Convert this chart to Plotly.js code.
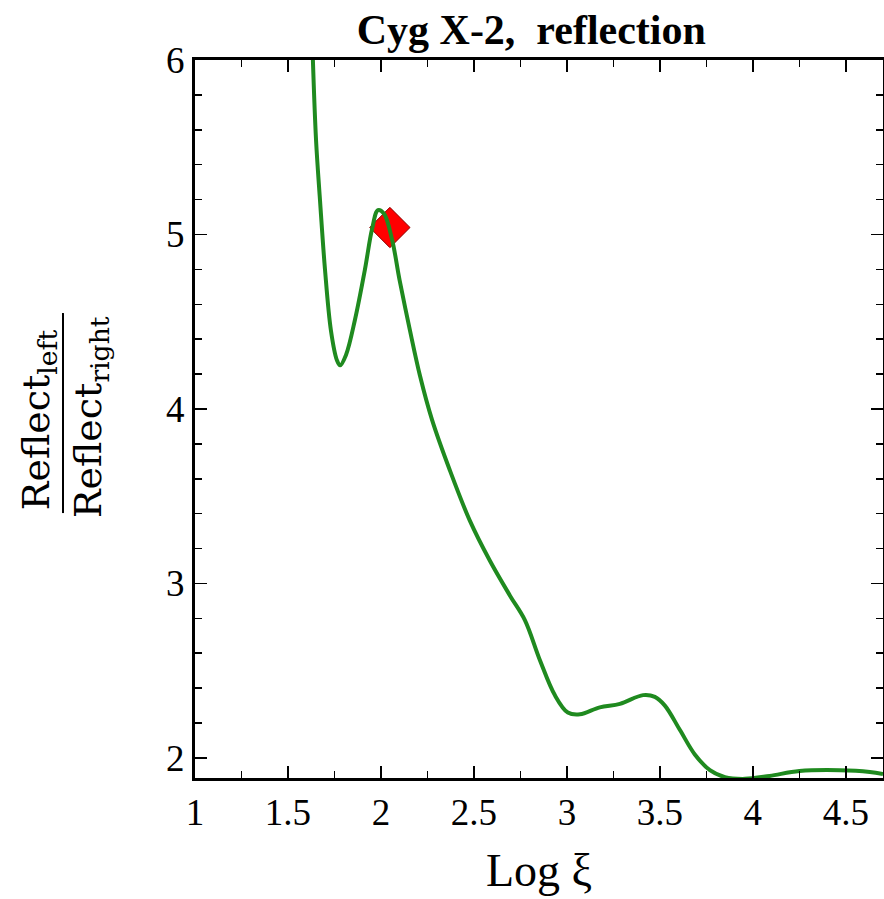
<!DOCTYPE html>
<html>
<head>
<meta charset="utf-8">
<script src="https://cdn.plot.ly/plotly-3.0.1.min.js"></script>
<style>html,body{margin:0;padding:0;background:#fff;}#chart{width:884px;height:899px;}</style>
</head>
<body>
<div id="chart"></div>
<script>
// Curve: Log xi vs Reflect_left / Reflect_right
const logXi = [1.634, 1.651, 1.672, 1.699, 1.731, 1.763, 1.780, 1.812, 1.860, 1.914, 1.952, 1.984, 2.016, 2.060, 2.100, 2.156, 2.210, 2.274, 2.370, 2.478, 2.586, 2.694, 2.774, 2.855, 2.935, 3.005, 3.070, 3.177, 3.285, 3.410, 3.473, 3.527, 3.608, 3.688, 3.769, 3.850, 3.957, 4.090, 4.250, 4.468, 4.629, 4.700];
const ratio = [6.00, 5.54, 5.20, 4.80, 4.45, 4.28, 4.25, 4.31, 4.51, 4.80, 5.03, 5.14, 5.12, 4.97, 4.74, 4.45, 4.19, 3.94, 3.65, 3.36, 3.13, 2.93, 2.79, 2.56, 2.36, 2.26, 2.25, 2.29, 2.31, 2.36, 2.35, 2.30, 2.16, 2.02, 1.93, 1.89, 1.88, 1.897, 1.925, 1.93, 1.92, 1.908];
// Marked point
const markX = [2.048];
const markY = [5.04];
const xTickVals = [1, 1.5, 2, 2.5, 3, 3.5, 4, 4.5];
const yTickVals = [2, 3, 4, 5, 6];

const serif = 'Liberation Serif, Times New Roman, serif';

const traces = [
  {x: markX, y: markY, mode: 'markers', type: 'scatter', cliponaxis: false,
   marker: {symbol: 'diamond', size: 31, color: '#ff0000', line: {color: '#8b0000', width: 1}}},
  {x: logXi, y: ratio, mode: 'lines', type: 'scatter',
   line: {color: '#1f8a1f', width: 4, shape: 'spline', smoothing: 1}}
];

const axisCommon = {
  showgrid: false, zeroline: false, showline: true, linecolor: '#000', linewidth: 3,
  mirror: 'allticks', ticks: 'inside', tickcolor: '#000', tickwidth: 1.5,
  tickfont: {family: serif, size: 37, color: '#000'}
};

const layout = {
  width: 884, height: 899,
  margin: {l: 195, r: 1, t: 60, b: 121},
  paper_bgcolor: '#fff', plot_bgcolor: '#fff',
  showlegend: false,
  title: {text: '<b>Cyg X-2,\u00a0 reflection</b>', font: {family: serif, size: 42, color: '#000'},
          x: 0.601, xanchor: 'center', y: 0.967, yanchor: 'middle'},
  xaxis: Object.assign({}, axisCommon, {
    range: [1, 4.7], tickvals: xTickVals, ticktext: xTickVals.map(String), ticklen: 12,
    minor: {dtick: 0.25, tick0: 1, ticks: 'inside', ticklen: 7, tickcolor: '#000', tickwidth: 1.5},
    title: {text: 'Log ξ', font: {family: serif, size: 46, color: '#000'}, standoff: 22}
  }),
  yaxis: Object.assign({}, axisCommon, {
    range: [1.885, 6], tickvals: yTickVals, ticktext: yTickVals.map(String), ticklen: 12,
    minor: {dtick: 0.2, tick0: 2, ticks: 'inside', ticklen: 7, tickcolor: '#000', tickwidth: 1.5}
  }),
  annotations: [
    {text: 'Reflect<sub>left</sub>', xref: 'paper', yref: 'paper', x: -0.228, y: 0.4986,
     xanchor: 'center', yanchor: 'middle', textangle: -90, showarrow: false,
     font: {family: 'DejaVu Serif, serif', size: 38, color: '#000'}},
    {text: 'Reflect<sub>right</sub>', xref: 'paper', yref: 'paper', x: -0.151, y: 0.5028,
     xanchor: 'center', yanchor: 'middle', textangle: -90, showarrow: false,
     font: {family: 'DejaVu Serif, serif', size: 38, color: '#000'}}
  ],
  shapes: [
    {type: 'line', xref: 'paper', yref: 'paper', x0: -0.1919, x1: -0.1919, y0: 0.369, y1: 0.6476,
     line: {color: '#000', width: 2}}
  ]
};

Plotly.newPlot('chart', traces, layout, {displayModeBar: false, staticPlot: true});
</script>
</body>
</html>
